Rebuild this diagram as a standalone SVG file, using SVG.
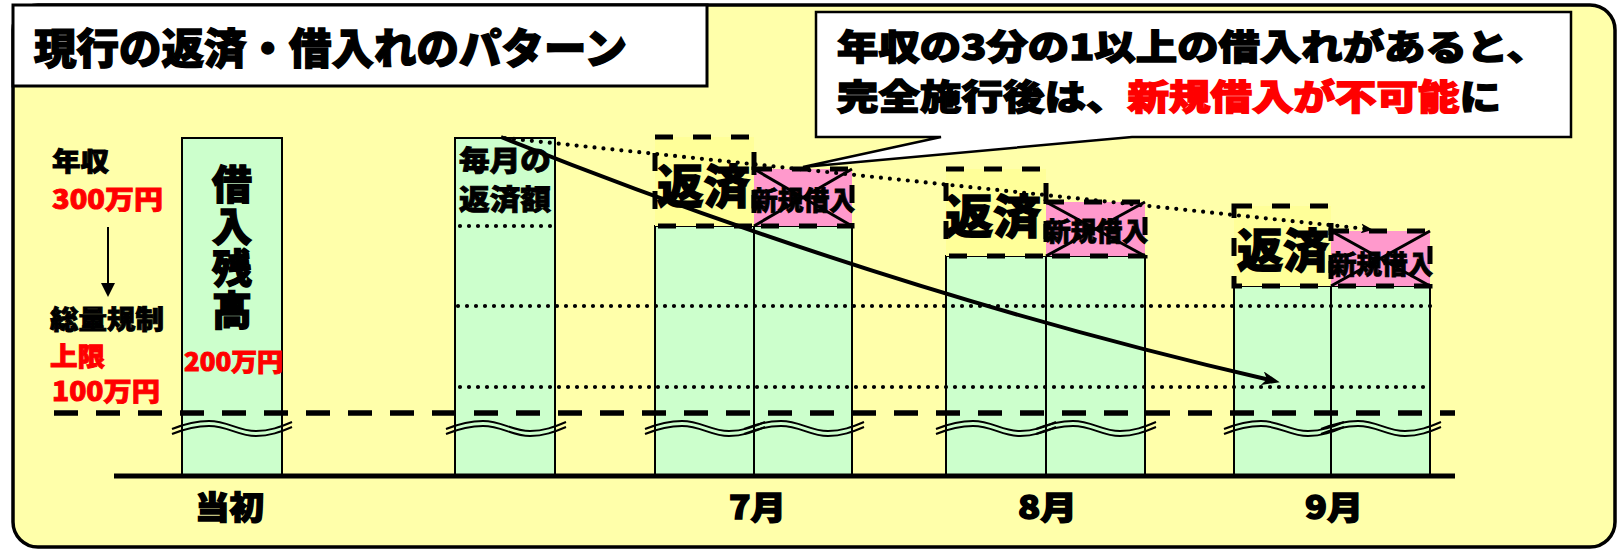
<svg xmlns="http://www.w3.org/2000/svg" width="1620" height="550" viewBox="0 0 1620 550">
<style>
text{font-family:"Noto Sans CJK JP","Noto Sans CJK SC",sans-serif;font-weight:900;fill:#000;stroke:#000;stroke-width:0.9}
.red{fill:#FF0000;stroke:#FF0000}
.big{stroke-width:1.4}
.bar{fill:#CCFFCC;stroke:#000;stroke-width:2}
.pay{fill:#FFFF99;stroke:none}
.pink{fill:#FF99CC;stroke:none}
.dbox{fill:none;stroke:#000;stroke-width:5;stroke-dasharray:18 20}
.dot{fill:none;stroke:#000;stroke-width:4.2;stroke-linecap:round;stroke-dasharray:0 9}
.wave{fill:none;stroke:#000;stroke-width:2}
.xl{stroke:#000;stroke-width:3}
</style>
<defs>
<g id="wv">
<path class="wave" d="M0,429 C15,423 24,421 37,421 C56,421 66,431 84,431 C98,431 108,427 120,422"/>
<path class="wave" d="M0,434 C15,428 24,426 37,426 C56,426 66,436 84,436 C98,436 108,432 120,427"/>
</g>
<marker id="ah" viewBox="0 0 18 14" refX="8" refY="7" markerWidth="18" markerHeight="14" markerUnits="userSpaceOnUse" orient="auto"><path d="M0,0 L18,7 L0,14 L5,7 Z" fill="#000"/></marker>
<marker id="ahs" viewBox="0 0 12 10" refX="6" refY="5" markerWidth="12" markerHeight="10" markerUnits="userSpaceOnUse" orient="auto"><path d="M0,0 L12,5 L0,10 L3,5 Z" fill="#000"/></marker>
</defs>

<rect id="frame" x="13" y="5" width="1602" height="542" rx="25" fill="#FFFFAA" stroke="#000" stroke-width="3.5"/>

<g id="title">
<rect x="13" y="5" width="694" height="81" fill="#FFFFFF" stroke="#000" stroke-width="3"/>
<text class="big" x="34" y="64" font-size="42" textLength="593" lengthAdjust="spacingAndGlyphs">現行の返済・借入れのパターン</text>
</g>

<g id="callout">
<path d="M816,12 H1571 V137 H1132 L803,167 L941,137 H816 Z" fill="#FFFFFF" stroke="#000" stroke-width="2.5" stroke-linejoin="miter"/>
<text class="big" x="837" y="60" font-size="35" textLength="711" lengthAdjust="spacingAndGlyphs">年収の3分の1以上の借入れがあると、</text>
<text class="big" x="837" y="110" font-size="35" textLength="664" lengthAdjust="spacingAndGlyphs">完全施行後は、<tspan class="red">新規借入が不可能</tspan>に</text>
</g>

<g id="left-labels">
<text x="52" y="171" font-size="26" textLength="57" lengthAdjust="spacingAndGlyphs">年収</text>
<text class="red" x="52" y="209" font-size="26" textLength="111" lengthAdjust="spacingAndGlyphs">300万円</text>
<text x="50" y="329" font-size="26" textLength="114" lengthAdjust="spacingAndGlyphs">総量規制</text>
<text class="red" x="50" y="366" font-size="26" textLength="55" lengthAdjust="spacingAndGlyphs">上限</text>
<text class="red" x="52" y="401" font-size="26" textLength="108" lengthAdjust="spacingAndGlyphs">100万円</text>
</g>

<g id="bar-initial">
<rect class="bar" x="182" y="138" width="100" height="338"/>
<text class="big" x="232" y="164" font-size="40" style="writing-mode:vertical-rl" letter-spacing="2">借入残高</text>
<text class="red" x="184" y="371" font-size="25" textLength="99" lengthAdjust="spacingAndGlyphs">200万円</text>
</g>

<g id="bar-monthly">
<rect class="bar" x="455" y="138" width="100" height="338"/>
<text x="459" y="171" font-size="28" textLength="92" lengthAdjust="spacingAndGlyphs">毎月の</text>
<text x="459" y="210" font-size="28" textLength="92" lengthAdjust="spacingAndGlyphs">返済額</text>
<line class="dot" x1="460" y1="226" x2="556" y2="226"/>
</g>

<g id="bar-jul">
<rect class="bar" x="655" y="226" width="99" height="250"/>
<rect class="bar" x="754" y="226" width="98" height="250"/>
<rect class="pay" x="655" y="137" width="99" height="89"/>
<rect class="pink" x="754" y="169" width="98" height="57"/>
</g>
<g id="bar-aug">
<rect class="bar" x="946" y="256" width="100" height="220"/>
<rect class="bar" x="1046" y="256" width="99" height="220"/>
<rect class="pay" x="946" y="169" width="100" height="87"/>
<rect class="pink" x="1046" y="202" width="99" height="54"/>
</g>
<g id="bar-sep">
<rect class="bar" x="1234" y="286" width="97" height="190"/>
<rect class="bar" x="1331" y="286" width="99" height="190"/>
<rect class="pay" x="1234" y="206" width="97" height="80"/>
<rect class="pink" x="1331" y="231" width="99" height="55"/>
</g>

<g id="guides">
<line class="dot" x1="458" y1="306" x2="1432" y2="306"/>
<line class="dot" x1="460" y1="387" x2="1432" y2="387"/>
<line x1="54" y1="413" x2="1455" y2="413" stroke="#000" stroke-width="5.5" stroke-dasharray="24 18"/>
<use href="#wv" x="172"/>
<use href="#wv" x="446"/>
<use href="#wv" x="645"/>
<use href="#wv" x="744"/>
<use href="#wv" x="936"/>
<use href="#wv" x="1036"/>
<use href="#wv" x="1224"/>
<use href="#wv" x="1321"/>
</g>

<g id="box-jul">
<rect class="dbox" x="655" y="137" width="99" height="89"/>
<rect class="dbox" x="754" y="169" width="98" height="57"/>
<text class="big" x="657" y="203" font-size="46" textLength="93" lengthAdjust="spacingAndGlyphs">返済</text>
<line class="xl" x1="754" y1="169" x2="852" y2="226"/>
<line class="xl" x1="754" y1="226" x2="852" y2="169"/>
<text x="752" y="210" font-size="26" textLength="103" lengthAdjust="spacingAndGlyphs">新規借入</text>
</g>
<g id="box-aug">
<rect class="dbox" x="946" y="169" width="100" height="87"/>
<rect class="dbox" x="1046" y="202" width="99" height="54"/>
<text class="big" x="945" y="233" font-size="46" textLength="96" lengthAdjust="spacingAndGlyphs">返済</text>
<line class="xl" x1="1046" y1="202" x2="1145" y2="256"/>
<line class="xl" x1="1046" y1="256" x2="1145" y2="202"/>
<text x="1045" y="241" font-size="26" textLength="103" lengthAdjust="spacingAndGlyphs">新規借入</text>
</g>
<g id="box-sep">
<rect class="dbox" x="1234" y="206" width="97" height="80"/>
<rect class="dbox" x="1331" y="231" width="99" height="55"/>
<text class="big" x="1237" y="267" font-size="46" textLength="92" lengthAdjust="spacingAndGlyphs">返済</text>
<line class="xl" x1="1331" y1="231" x2="1430" y2="286"/>
<line class="xl" x1="1331" y1="286" x2="1430" y2="231"/>
<text x="1331" y="274" font-size="26" textLength="102" lengthAdjust="spacingAndGlyphs">新規借入</text>
</g>

<g id="axis-labels">
<text class="big" x="195" y="519" font-size="32" textLength="69" lengthAdjust="spacingAndGlyphs">当初</text>
<text class="big" x="729" y="519" font-size="32" textLength="57" lengthAdjust="spacingAndGlyphs">7月</text>
<text class="big" x="1018" y="519" font-size="32" textLength="59" lengthAdjust="spacingAndGlyphs">8月</text>
<text class="big" x="1305" y="519" font-size="32" textLength="58" lengthAdjust="spacingAndGlyphs">9月</text>
</g>

<g id="connectors">
<line x1="114" y1="476" x2="1455" y2="476" stroke="#000" stroke-width="5"/>
<line x1="108" y1="227" x2="108" y2="286" stroke="#000" stroke-width="2"/>
<polygon points="101,283 115,283 108,297" fill="#000"/>
<path class="dot" d="M505,138 L1367,229" marker-end="url(#ahs)"/>
<path d="M501,137 Q888,292 1270,380" fill="none" stroke="#000" stroke-width="4" marker-end="url(#ah)"/>
</g>
</svg>
